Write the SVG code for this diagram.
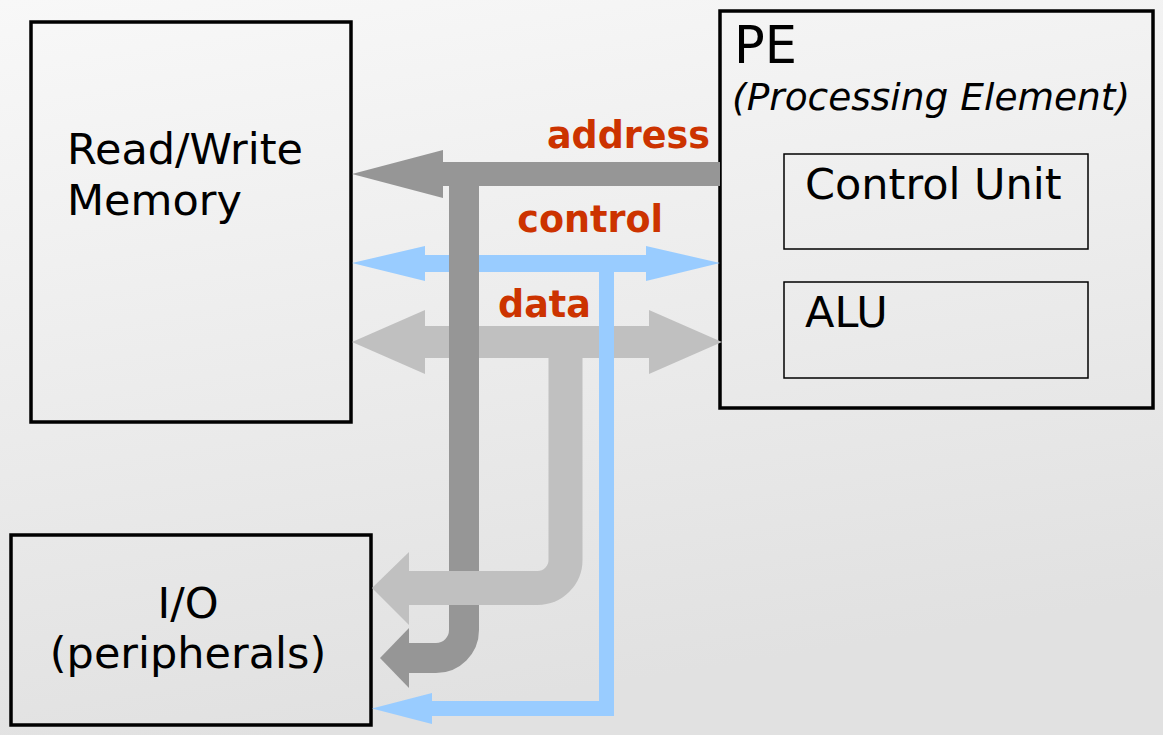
<svg xmlns="http://www.w3.org/2000/svg" width="1163" height="735" viewBox="0 0 1163 735">
<defs>
<linearGradient id="bg" x1="0" y1="0" x2="0.25" y2="1">
<stop offset="0" stop-color="#f8f8f8"/>
<stop offset="1" stop-color="#e1e1e1"/>
</linearGradient>
<style>
.box{fill:none;stroke:#000;stroke-width:3.5}
.sub{fill:none;stroke:#000;stroke-width:1.5}
.t{font-family:"DejaVu Sans",Verdana,sans-serif;font-size:43px;fill:#000}
.lbl{font-family:"DejaVu Sans",Verdana,sans-serif;font-size:36.5px;font-weight:bold;fill:#cc3300}
.dark{fill:#969696}
.light{fill:#c0c0c0}
.blue{fill:#99ccff}
</style>
</defs>
<rect x="0" y="0" width="1163" height="735" fill="url(#bg)"/>

<g id="memory">
<rect class="box" x="31" y="22" width="320" height="400"/>
<text class="t" x="67" y="164">Read/Write</text>
<text class="t" x="67" y="215">Memory</text>
</g>

<g id="pe">
<rect class="box" x="720" y="11" width="433" height="397"/>
<text class="t" x="734" y="63" style="font-size:51px">PE</text>
<text class="t" x="732" y="110" style="font-size:37.5px;font-style:italic">(Processing Element)</text>
</g>

<g id="control-unit">
<rect class="sub" x="784" y="154" width="304" height="95"/>
<text class="t" x="805" y="199">Control Unit</text>
</g>

<g id="alu">
<rect class="sub" x="784" y="282" width="304" height="96"/>
<text class="t" x="805" y="327">ALU</text>
</g>

<g id="io">
<rect class="box" x="11" y="535" width="360" height="190"/>
<text class="t" x="188" y="618" text-anchor="middle">I/O</text>
<text class="t" x="188" y="668" text-anchor="middle">(peripherals)</text>
</g>

<g id="connectors">
<!-- data bus -->
<polygon class="light" points="352,342 425,310 425,326 649,326 649,310 722,342 649,374 649,358 425,358 425,374"/>
<!-- control bus -->
<polygon class="blue" points="352,263 425,246 425,255 646,255 646,246 720,263 646,281 646,272 425,272 425,281"/>
<path d="M606.5,270 V708.5 H428" fill="none" stroke="#99ccff" stroke-width="15"/>
<polygon class="blue" points="372,708.5 432,693 432,724"/>
<!-- address bus -->
<polygon class="dark" points="352,174 443,150 443,198"/>
<rect class="dark" x="440" y="162" width="280" height="24"/>
<path d="M464,180 V630 A28 28 0 0 1 436,658 H406" fill="none" stroke="#969696" stroke-width="30"/>
<polygon class="dark" points="380,658 409,628 409,688"/>
<!-- data branch to I/O -->
<path d="M565.5,356 V560 A28 28 0 0 1 537.5,588 H406" fill="none" stroke="#c0c0c0" stroke-width="34"/>
<polygon class="light" points="372,588 409,552 409,625"/>
</g>

<g id="labels">
<text class="lbl" x="710" y="148" text-anchor="end">address</text>
<text class="lbl" x="663" y="232" text-anchor="end">control</text>
<text class="lbl" x="498" y="317">data</text>
</g>
</svg>
